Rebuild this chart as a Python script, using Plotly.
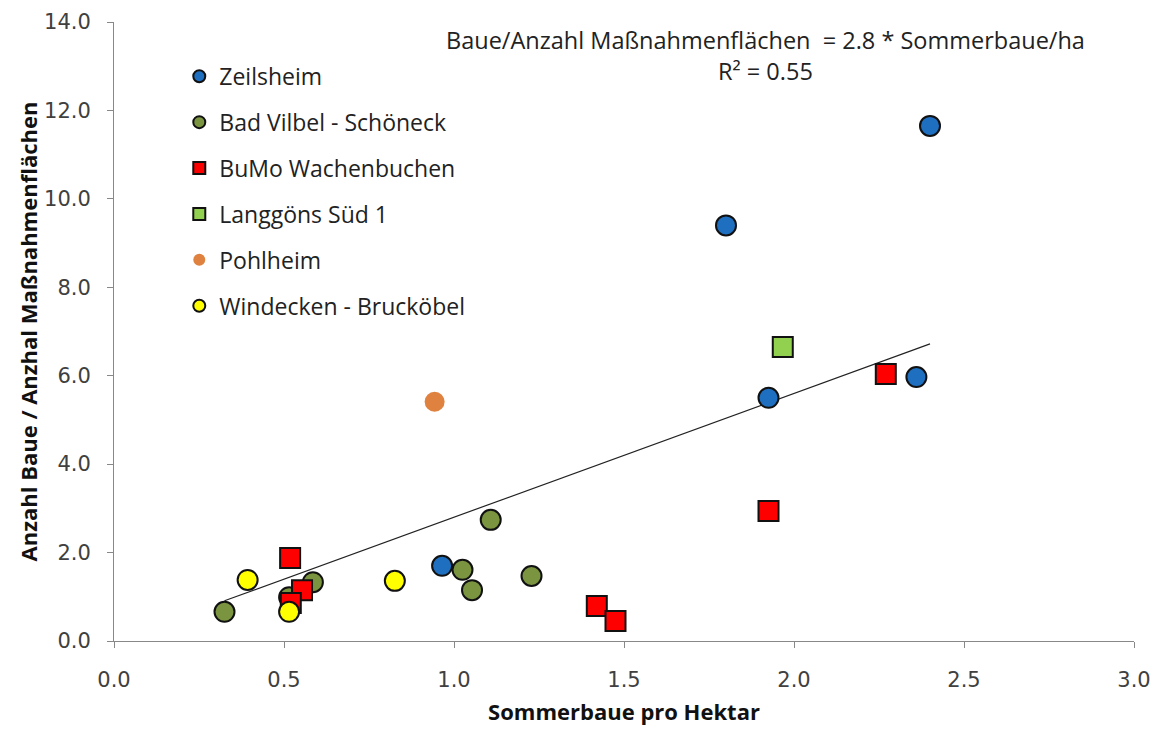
import plotly.graph_objects as go

# Data
zeil_x = [2.40, 1.80, 1.925, 2.36, 0.965]
zeil_y = [11.65, 9.40, 5.50, 5.97, 1.70]

bv_x = [0.325, 0.515, 0.585, 1.025, 1.053, 1.108, 1.228]
bv_y = [0.66, 0.99, 1.33, 1.61, 1.15, 2.74, 1.47]

bumo_x = [0.518, 0.553, 0.52, 1.42, 1.475, 1.925, 2.27]
bumo_y = [1.88, 1.15, 0.86, 0.79, 0.45, 2.94, 6.04]

lang_x = [1.967]
lang_y = [6.65]

pohl_x = [0.943]
pohl_y = [5.41]

wind_x = [0.393, 0.515, 0.826]
wind_y = [1.38, 0.66, 1.36]

slope = 2.8
r2 = 0.55

series = [
    ("Zeilsheim", zeil_x, zeil_y, "circle", "#1F6FC0", 2),
    ("Bad Vilbel - Schöneck", bv_x, bv_y, "circle", "#7A9440", 2),
    ("BuMo Wachenbuchen", bumo_x, bumo_y, "square", "#FF0000", 2),
    ("Langgöns Süd 1", lang_x, lang_y, "square", "#92D050", 2),
    ("Pohlheim", pohl_x, pohl_y, "circle", "#E0823F", 0),
    ("Windecken - Brucköbel", wind_x, wind_y, "circle", "#FFFF00", 2),
]

fig = go.Figure()

all_x = zeil_x + bv_x + bumo_x + lang_x + pohl_x + wind_x
xmin, xmax = min(all_x), max(all_x)
fig.add_trace(go.Scatter(
    x=[xmin, xmax], y=[slope * xmin, slope * xmax], mode="lines",
    line=dict(color="#222222", width=1.2), showlegend=False, hoverinfo="skip"))

for i, (name, xs, ys, sym, col, lw) in enumerate(series):
    fig.add_trace(go.Scatter(
        x=xs, y=ys, mode="markers", name=name, legendgroup=f"g{i}",
        marker=dict(symbol=sym, size=20, color=col,
                    line=dict(color="#111111", width=lw)),
    ))

tickfont = dict(family="DejaVu Sans", size=21, color="#404040")
titlefont = dict(family="Open Sans", size=22, color="#111111", weight="bold")

fig.update_layout(
    width=1158, height=729,
    margin=dict(l=106, r=32, t=14, b=96, autoexpand=False),
    paper_bgcolor="white", plot_bgcolor="white",
    xaxis=dict(range=[0, 3.0], tickvals=[0, 0.5, 1.0, 1.5, 2.0, 2.5, 3.0],
               ticktext=["0.0", "0.5", "1.0", "1.5", "2.0", "2.5", "3.0"],
               showgrid=False, zeroline=False, showline=True, linecolor="#888888",
               linewidth=1, ticks="outside", tickcolor="#888888", ticklen=6,
               tickfont=tickfont, automargin=False, ticklabelstandoff=14,
               title=dict(text="Sommerbaue pro Hektar", font=titlefont, standoff=13)),
    yaxis=dict(range=[0, 14], tickvals=[0, 2, 4, 6, 8, 10, 12, 14],
               ticktext=["0.0", "2.0", "4.0", "6.0", "8.0", "10.0", "12.0", "14.0"],
               showgrid=False, zeroline=False, showline=True, linecolor="#888888",
               linewidth=1, ticks="outside", tickcolor="#888888", ticklen=6,
               tickfont=tickfont, automargin=False, ticklabelstandoff=12,
               title=dict(text="Anzahl Baue / Anzhal Maßnahmenflächen", font=titlefont, standoff=0)),
    legend=dict(x=0.064, y=0.947, xanchor="left", yanchor="top",
                font=dict(family="Open Sans", size=23, color="#222222"),
                tracegroupgap=13, itemsizing="constant",
                bgcolor="rgba(255,255,255,0)"),
    annotations=[dict(
        x=0.639, y=1.0, xref="paper", yref="paper", xanchor="center", yanchor="top",
        text=f"Baue/Anzahl Maßnahmenflächen  = {slope} * Sommerbaue/ha<br>R² = {r2}",
        showarrow=False, align="center",
        font=dict(family="Open Sans", size=23.5, color="#222222"))],
)

fig.write_html("out.html")
